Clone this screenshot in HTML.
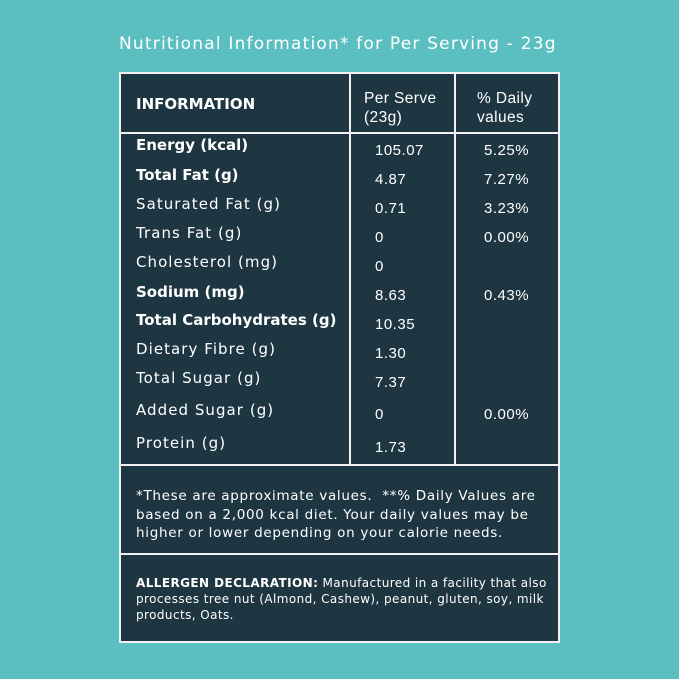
<!DOCTYPE html><html><head><style>
body{margin:0;width:679px;height:679px;background:#5bbfc1;position:relative;overflow:hidden;font-family:"Liberation Sans",sans-serif;color:#fff}
.t{position:absolute;white-space:nowrap;line-height:1}
.d{font-family:"DejaVu Sans",sans-serif}
.b{font-weight:bold;font-family:"DejaVu Sans",sans-serif}
.r{font-family:"DejaVu Sans",sans-serif;letter-spacing:1.05px}
.box{position:absolute;background:#1d3641;border:2px solid #f2f2f2;box-sizing:border-box}
.l{position:absolute;background:#f2f2f2}
.v{letter-spacing:0.5px}
</style></head><body>
<div class="t d" style="left:119px;top:36px;font-size:17px;letter-spacing:1.2px">Nutritional Information* for Per Serving - 23g</div>
<div class="box" style="left:119px;top:72px;width:441px;height:571px"></div>
<div class="l" style="left:120px;top:132px;width:439px;height:2px"></div>
<div class="l" style="left:120px;top:464px;width:439px;height:2px"></div>
<div class="l" style="left:120px;top:553px;width:439px;height:2px"></div>
<div class="l" style="left:349px;top:73px;width:2px;height:392px"></div>
<div class="l" style="left:454px;top:73px;width:2px;height:392px"></div>
<div class="t b" style="left:136px;top:97px;font-size:15px">INFORMATION</div>
<div class="t" style="left:364px;top:89px;font-size:15.5px;line-height:19px;letter-spacing:0.4px">Per Serve<br>(23g)</div>
<div class="t" style="left:477px;top:89px;font-size:15.5px;line-height:19px;letter-spacing:0.4px">% Daily<br>values</div>
<div style="position:absolute;left:0;top:0;font-size:15px">
<div class="t b" style="left:136px;top:138px">Energy (kcal)</div>
<div class="t b" style="left:136px;top:168px">Total Fat (g)</div>
<div class="t r" style="left:136px;top:197px">Saturated Fat (g)</div>
<div class="t r" style="left:136px;top:226px">Trans Fat (g)</div>
<div class="t r" style="left:136px;top:255px">Cholesterol (mg)</div>
<div class="t b" style="left:136px;top:285px">Sodium (mg)</div>
<div class="t b" style="left:136px;top:313px">Total Carbohydrates (g)</div>
<div class="t r" style="left:136px;top:342px">Dietary Fibre (g)</div>
<div class="t r" style="left:136px;top:371px">Total Sugar (g)</div>
<div class="t r" style="left:136px;top:403px">Added Sugar (g)</div>
<div class="t r" style="left:136px;top:436px">Protein (g)</div>
<div class="t v" style="left:375px;top:143px">105.07</div>
<div class="t v" style="left:375px;top:172px">4.87</div>
<div class="t v" style="left:375px;top:201px">0.71</div>
<div class="t v" style="left:375px;top:230px">0</div>
<div class="t v" style="left:375px;top:259px">0</div>
<div class="t v" style="left:375px;top:288px">8.63</div>
<div class="t v" style="left:375px;top:317px">10.35</div>
<div class="t v" style="left:375px;top:346px">1.30</div>
<div class="t v" style="left:375px;top:375px">7.37</div>
<div class="t v" style="left:375px;top:407px">0</div>
<div class="t v" style="left:375px;top:440px">1.73</div>
<div class="t v" style="left:484px;top:143px">5.25%</div>
<div class="t v" style="left:484px;top:172px">7.27%</div>
<div class="t v" style="left:484px;top:201px">3.23%</div>
<div class="t v" style="left:484px;top:230px">0.00%</div>
<div class="t v" style="left:484px;top:288px">0.43%</div>
<div class="t v" style="left:484px;top:407px">0.00%</div>
</div>
<div class="t d" style="left:136px;top:487px;font-size:13.5px;line-height:18.5px;letter-spacing:0.7px">*These are approximate values.&nbsp; **% Daily Values are<br>based on a 2,000 kcal diet. Your daily values may be<br>higher or lower depending on your calorie needs.</div>
<div class="t d" style="left:136px;top:575px;font-size:12px;line-height:16px;letter-spacing:0.42px"><b>ALLERGEN DECLARATION:</b> Manufactured in a facility that also<br>processes tree nut (Almond, Cashew), peanut, gluten, soy, milk<br>products, Oats.</div>
</body></html>
